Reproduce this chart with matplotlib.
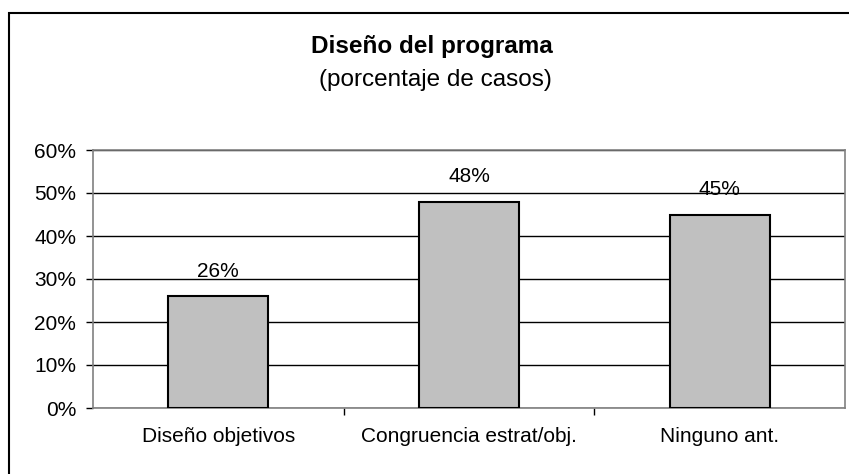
import matplotlib.pyplot as plt
from matplotlib.patches import Rectangle

plt.rcParams["font.family"] = ["Liberation Sans", "DejaVu Sans"]

# data
categories = ["Diseño objetivos", "Congruencia estrat/obj.", "Ninguno ant."]
values = [26, 48, 45]
y_ticks = [0, 10, 20, 30, 40, 50, 60]

W, H = 849, 474
fig = plt.figure(figsize=(W / 100, H / 100), dpi=100)

# outer chart frame (runs off the right/bottom edge in the reference)
fig.patches.append(Rectangle((8.5 / W, -0.05), 1.1, 1.05 - 12.5 / H,
                             transform=fig.transFigure, fill=False,
                             edgecolor="black", linewidth=1.5))

ax = fig.add_axes([93 / W, (H - 408) / H, (845 - 93) / W, 258 / H])

x = list(range(len(categories)))
ax.bar(x, values, width=0.4, color="#C0C0C0", edgecolor="black",
       linewidth=1.5, zorder=3)
for xi, v in zip(x, values):
    ax.text(xi, v + 3.6, f"{v}%", ha="center", va="bottom", fontsize=15)

ax.set_xlim(-0.5, len(categories) - 0.5)
ax.set_ylim(0, 60)
ax.set_yticks(y_ticks)
ax.set_yticklabels([f"{t}%" for t in y_ticks], fontsize=15)
ax.set_xticks(x)
ax.set_xticklabels(categories, fontsize=15)
ax.tick_params(axis="x", length=0, pad=14)
ax.tick_params(axis="y", length=5, width=1, pad=7, direction="out")
# minor ticks on x mark the category boundaries
ax.set_xticks([0.5, 1.5], minor=True)
ax.tick_params(axis="x", which="minor", length=5, width=1, direction="out")

ax.grid(axis="y", color="black", linewidth=1, zorder=0)
for side in ["top", "right", "left", "bottom"]:
    ax.spines[side].set_color("#808080")
    ax.spines[side].set_linewidth(1.2)

fig.text(432 / W, (H - 46) / H, "Diseño del programa", ha="center",
         va="center", fontsize=17.5, fontweight="bold")
fig.text(435 / W, (H - 80) / H, "(porcentaje de casos)", ha="center",
         va="center", fontsize=17.5)

fig.savefig("out.png", dpi=100)
